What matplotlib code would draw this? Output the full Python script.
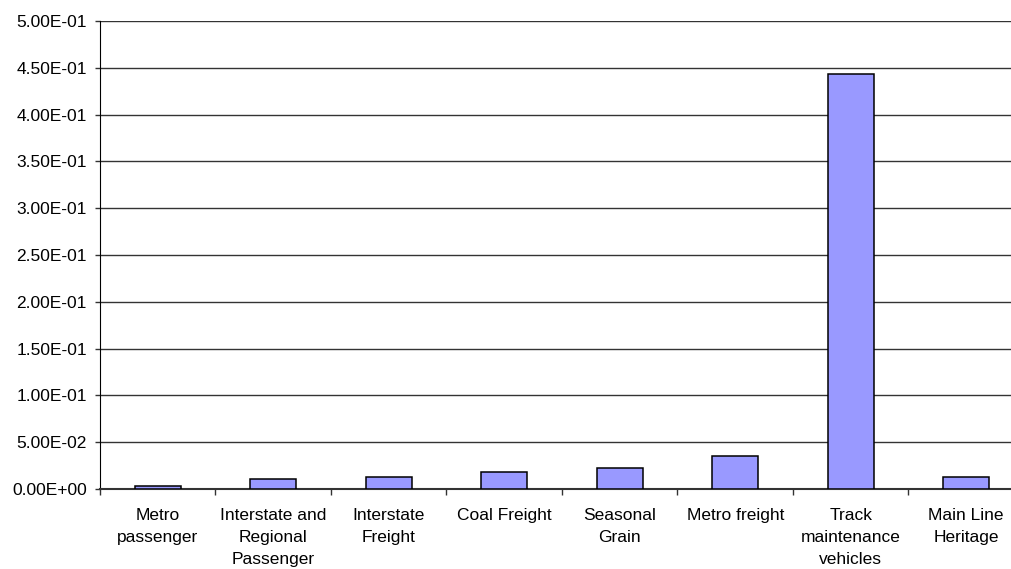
import numpy as np
import matplotlib
matplotlib.use("Agg")
import matplotlib.pyplot as plt
from matplotlib.ticker import FuncFormatter, MultipleLocator

# kategori dan nilai
kategori = ["Metro\npassenger", "Interstate and\nRegional\nPassenger", "Interstate\nFreight",
            "Coal Freight", "Seasonal\nGrain", "Metro freight", "Track\nmaintenance\nvehicles",
            "Main Line\nHeritage"]
nilai = [0.0032, 0.0104, 0.0132, 0.0179, 0.0222, 0.0357, 0.4435, 0.0132]

plt.rcParams['font.family'] = ['Liberation Sans', 'DejaVu Sans']

fig = plt.figure(figsize=(10.12, 5.69), dpi=100)
# sumbu agak melebar ke kanan melewati tepi gambar
ax = fig.add_axes([100 / 1012, 80 / 569, 924 / 1012, 468 / 569])

x = np.arange(len(kategori))
ax.bar(x, nilai, width=0.4, color="#9999FF", edgecolor="black", linewidth=1.1, zorder=3)

ax.set_xlim(-0.5, len(kategori) - 0.5)
ax.set_ylim(0, 0.5)
ax.yaxis.set_major_locator(MultipleLocator(0.05))

def format_e(v, pos):
    s = "%.2E" % v
    return s

ax.yaxis.set_major_formatter(FuncFormatter(format_e))
ax.grid(axis="y", color="#333333", linewidth=1, zorder=0)
ax.set_axisbelow(True)

ax.set_xticks(x)
ax.set_xticklabels(kategori, fontsize=12.5, linespacing=1.57, va="top")
ax.set_xticks(np.arange(len(kategori) + 1) - 0.5, minor=True)
ax.tick_params(axis="x", which="major", length=0, pad=14)
ax.tick_params(axis="x", which="minor", length=4, width=1, direction="out", color="#333333")
ax.tick_params(axis="y", length=3.5, width=1, labelsize=12.5, pad=6, color="#333333")

for s in ["top", "right"]:
    ax.spines[s].set_visible(False)
ax.spines["left"].set_color("black")
ax.spines["bottom"].set_color("#333333")
ax.spines["bottom"].set_linewidth(1.5)

fig.savefig("out.png", dpi=100)
